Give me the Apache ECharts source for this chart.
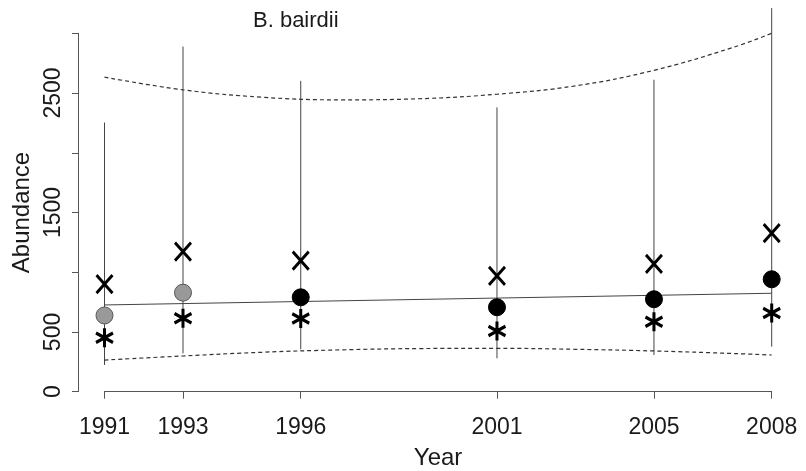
<!DOCTYPE html>
<html>
<head>
<meta charset="utf-8">
<script src="https://cdn.jsdelivr.net/npm/echarts@6/dist/echarts.min.js"></script>
<style>html,body{margin:0;padding:0;background:#fff}#c{width:806px;height:471px}</style>
</head>
<body>
<div id="c"></div>
<script>
// ---- data ----
const years = [1991, 1993, 1996, 2001, 2005, 2008];
const crossVals = [900, 1172, 1097, 969, 1069, 1328];
const meanVals = [638, 829, 790, 707, 774, 941];
const starVals = [451, 615, 612, 508, 586, 659];
const barLow = [224, 321, 355, 280, 307, 377];
const barHigh = [2253, 2889, 2602, 2380, 2611, 3211];
const grayYears = [1991, 1993];
const trendYears = [1991, 2008];
const trendVals = [726, 824];
const bandYears = [1991, 1993, 1995, 1997, 1999, 2001, 2003, 2005, 2007, 2008];
const bandUpper = [2633, 2527, 2465, 2443, 2452, 2490, 2560, 2690, 2880, 3000];
const bandLower = [265, 299, 330, 350, 361, 363, 355, 341, 320, 307];
const yLabelVals = [0, 500, 1500, 2500];
const titleText = 'B. bairdii';
const xName = 'Year';
const yName = 'Abundance';

const FONT = "'Liberation Sans', Arial, Helvetica, sans-serif";
const pairs = (xs, ys) => xs.map((x, i) => [x, ys[i]]);
const meanGray = pairs(years, meanVals).filter(d => grayYears.includes(d[0]));
const meanBlack = pairs(years, meanVals).filter(d => !grayYears.includes(d[0]));

const chart = echarts.init(document.getElementById('c'), null, {renderer: 'canvas'});
chart.setOption({
  animation: false,
  backgroundColor: '#fff',
  title: {
    text: titleText, left: 253, top: 10, padding: 0,
    textStyle: {fontFamily: FONT, fontSize: 22, fontWeight: 'normal', color: '#1a1a1a'}
  },
  grid: {left: 104.5, right: 34.3, top: 33.3, bottom: 79.3, containLabel: false, outerBoundsMode: 'none'},
  xAxis: {
    type: 'value', min: 1991, max: 2008, offset: 14.5,
    name: xName, nameLocation: 'middle', nameGap: 40,
    nameTextStyle: {fontFamily: FONT, fontSize: 24, color: '#1a1a1a'},
    axisLine: {show: true, lineStyle: {color: '#555', width: 1}},
    axisTick: {show: true, length: 7, customValues: years, lineStyle: {color: '#555'}},
    axisLabel: {customValues: years, formatter: v => String(v), margin: 10,
      fontFamily: FONT, fontSize: 23, color: '#1a1a1a'},
    splitLine: {show: false}
  },
  yAxis: {
    type: 'value', min: 0, max: 3000, interval: 500, offset: 26.5,
    name: yName, nameLocation: 'middle', nameGap: 42,
    nameTextStyle: {fontFamily: FONT, fontSize: 24, color: '#1a1a1a'},
    axisLine: {show: true, lineStyle: {color: '#555', width: 1}},
    axisTick: {show: true, length: 6, lineStyle: {color: '#555'}},
    axisLabel: {customValues: yLabelVals, rotate: 90, margin: 13, formatter: v => String(v),
      fontFamily: FONT, fontSize: 23, color: '#1a1a1a'},
    splitLine: {show: false}
  },
  series: [
    {
      type: 'custom', clip: false, z: 1,
      data: years.map((y, i) => [y, barLow[i], barHigh[i]]),
      encode: {x: 0, y: [1, 2]},
      renderItem: (params, api) => {
        const p1 = api.coord([api.value(0), api.value(1)]);
        const p2 = api.coord([api.value(0), api.value(2)]);
        return {type: 'line', shape: {x1: p1[0], y1: p1[1], x2: p2[0], y2: p2[1]},
          style: {stroke: '#444', lineWidth: 1}};
      }
    },
    {
      type: 'line', data: pairs(trendYears, trendVals), symbol: 'none', z: 2,
      lineStyle: {color: '#444', width: 1}
    },
    {
      type: 'line', data: pairs(bandYears, bandUpper), symbol: 'none', smooth: 0.4, clip: false, z: 2,
      lineStyle: {color: '#333', width: 1.2, type: [4, 3]}
    },
    {
      type: 'line', data: pairs(bandYears, bandLower), symbol: 'none', smooth: 0.4, clip: false, z: 2,
      lineStyle: {color: '#333', width: 1.2, type: [4, 3]}
    },
    {
      type: 'scatter', data: pairs(years, crossVals), z: 3,
      symbol: 'path://M0,0L10,12M10,0L0,12', symbolSize: [16, 18],
      itemStyle: {color: 'rgba(0,0,0,0)', borderColor: '#000', borderWidth: 3, opacity: 1}
    },
    {
      type: 'scatter', data: pairs(years, starVals), z: 3,
      symbol: 'path://M10,0L10,20M1.34,5L18.66,15M1.34,15L18.66,5', symbolSize: [17, 19],
      itemStyle: {color: 'rgba(0,0,0,0)', borderColor: '#000', borderWidth: 3.2, opacity: 1}
    },
    {
      type: 'scatter', data: meanGray, z: 4,
      symbol: 'circle', symbolSize: 17,
      itemStyle: {color: '#999', borderColor: '#555', borderWidth: 1, opacity: 1}
    },
    {
      type: 'scatter', data: meanBlack, z: 4,
      symbol: 'circle', symbolSize: 17,
      itemStyle: {color: '#000', borderColor: '#000', borderWidth: 1, opacity: 1}
    }
  ]
});
</script>
</body>
</html>
